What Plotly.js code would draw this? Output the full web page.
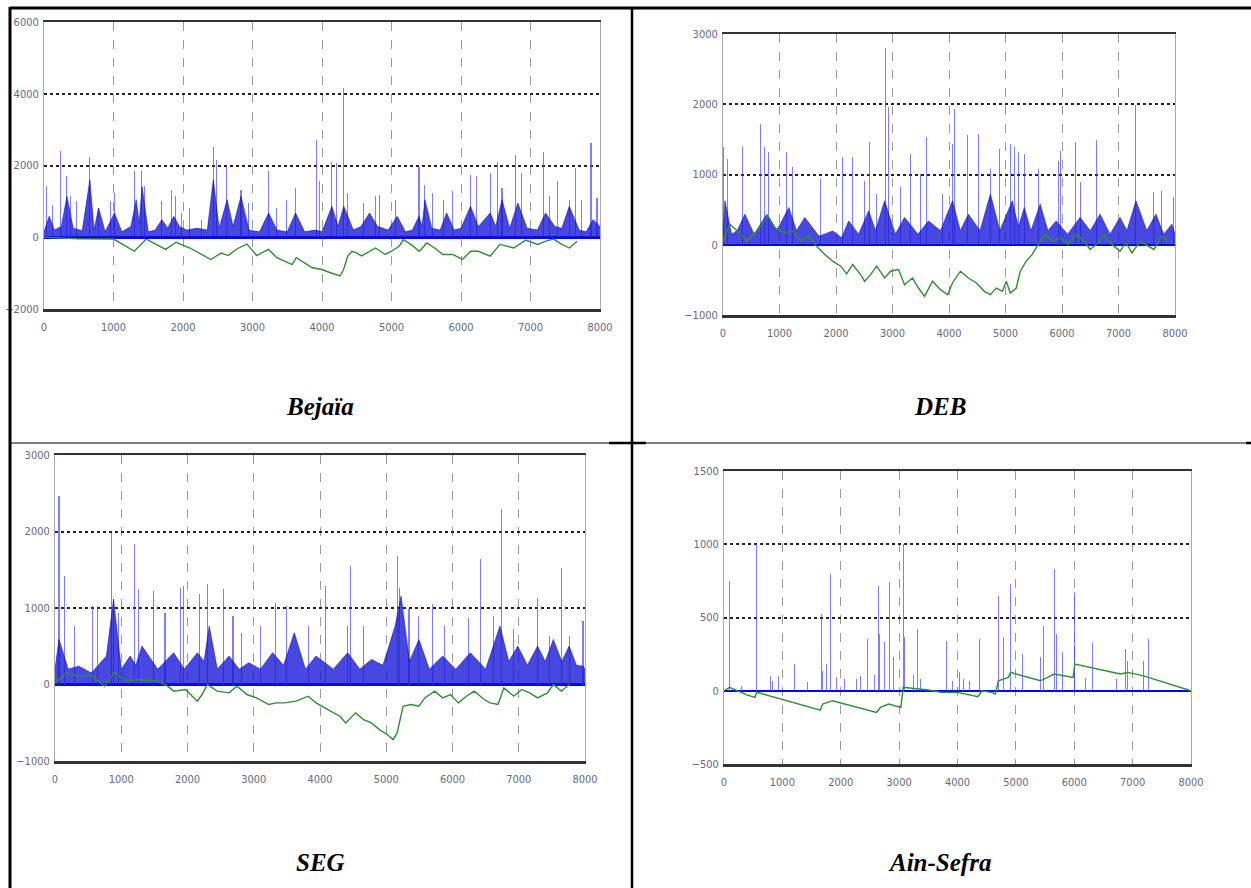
<!DOCTYPE html>
<html><head><meta charset="utf-8">
<script src="https://cdn.plot.ly/plotly-3.0.1.min.js"></script>
<style>html,body{margin:0;padding:0;background:#fff}#chart{width:1251px;height:888px}</style>
</head><body><div id="chart"></div><script>
// ---------- captions / ticks ----------
const captions = ["Bejaïa", "DEB", "SEG", "Ain-Sefra"];
const xTickVals = [0,1000,2000,3000,4000,5000,6000,7000,8000];
const xTickText = ["0","1000","2000","3000","4000","5000","6000","7000","8000"];
const bejaiaYTicks = [-2000,0,2000,4000,6000];
const debYTicks = [-1000,0,1000,2000,3000];
const segYTicks = [-1000,0,1000,2000,3000];
const ainYTicks = [-500,0,500,1000,1500];

// ---------- Bejaïa ----------
const bejaiaSpikeX = [34,120,233,330,375,470,660,785,956,1013,1298,1400,1440,1696,1838,1895,1980,2094,2265,2436,2481,2624,2834,2948,3233,3347,3489,3620,3916,3961,4143,4212,4303,4371,4599,4770,4826,5054,5396,5481,5595,5748,5880,6136,6221,6420,6523,6590,6790,6875,7188,7274,7387,7558,7643,7729,7871,7957];
const bejaiaSpikeY = [1417,900,2417,1700,1140,1000,2250,815,1000,1230,1860,1860,1417,1000,1324,1140,675,815,490,2528,2157,2000,1324,954,1833,815,1046,1370,2713,1555,2111,2065,4148,1231,954,1139,1185,1046,1972,1463,1231,1046,1278,1741,1694,1787,2111,1370,2296,1787,2389,1139,1555,1046,1926,1046,2620,1093];
const bejaiaBaseX = [0,74,150,250,330,420,550,660,720,785,880,1013,1120,1250,1326,1370,1411,1500,1600,1696,1780,1867,1950,2050,2200,2350,2436,2520,2635,2720,2834,2950,3100,3233,3350,3500,3620,3750,3900,4000,4143,4230,4314,4450,4560,4684,4800,4950,5083,5200,5300,5396,5440,5481,5580,5700,5794,5900,6000,6136,6250,6420,6500,6590,6700,6818,6950,7100,7217,7350,7450,7558,7700,7800,7900,8000];
const bejaiaBaseY = [150,583,200,300,1139,250,180,1602,200,815,150,676,150,300,1046,400,1417,150,200,491,250,583,300,200,250,200,1602,250,1046,300,1139,200,150,676,200,150,676,150,200,150,861,300,861,200,300,676,300,200,583,150,200,583,300,1046,250,200,676,200,250,861,300,676,300,1046,250,954,250,200,676,300,250,861,200,150,491,300];
const bejaiaCumX = [0,500,1000,1300,1470,1750,1900,2100,2400,2550,2650,2780,2920,3060,3230,3350,3570,3630,3860,4000,4120,4260,4310,4370,4430,4490,4570,4650,4770,4910,5000,5110,5170,5280,5400,5510,5620,5740,5880,6020,6140,6250,6420,6560,6760,6930,7100,7220,7330,7450,7560,7670];
const bejaiaCumY = [0,-40,-50,-390,-50,-340,-140,-300,-620,-440,-510,-320,-190,-510,-340,-570,-760,-570,-850,-900,-990,-1080,-900,-530,-390,-430,-520,-430,-300,-480,-390,-250,-70,-200,-390,-160,-300,-480,-480,-620,-390,-390,-530,-200,-300,-80,-200,-110,-50,-200,-300,-110];

// ---------- DEB ----------
const debSpikeX = [14,78,339,424,657,742,812,1080,1116,1236,1469,1730,2119,2295,2507,2599,2719,2881,2931,3143,3319,3496,3602,3884,4061,4096,4329,4520,4732,4887,5085,5155,5226,5332,5579,5932,5968,6236,6320,6603,6744,6850,7062,7295,7486,7627,7768,7980];
const debSpikeY = [1389,1222,1389,1150,1723,1389,1317,1246,1317,1103,1365,935,1246,1246,912,1461,721,2797,1962,816,1294,1007,1532,721,1437,1938,1556,1580,1079,1365,1437,1389,1317,1294,1079,1198,1341,1461,888,1485,1866,873,864,1986,816,745,768,673];
const debBaseX = [0,35,150,250,388,550,777,950,1165,1300,1448,1700,1942,2100,2225,2400,2578,2700,2860,3050,3213,3450,3637,3850,4061,4200,4343,4550,4732,4900,5120,5230,5332,5450,5614,5750,5897,6100,6320,6500,6674,6850,7027,7150,7309,7500,7662,7800,7945,8000];
const debBaseY = [150,625,150,200,435,150,435,200,530,200,387,120,196,100,339,150,482,200,625,150,387,150,339,200,625,200,435,200,721,200,625,250,530,200,578,200,339,150,387,200,435,150,387,200,625,200,435,150,291,150];
const debCumX = [0,120,318,424,600,798,918,1095,1236,1377,1518,1624,1801,1942,2083,2189,2295,2436,2507,2613,2719,2860,2966,3107,3213,3354,3460,3566,3708,3849,3976,4061,4202,4343,4484,4626,4732,4838,4944,5014,5085,5191,5261,5367,5473,5579,5685,5826,5968,6109,6250,6391,6497,6638,6744,6885,7027,7133,7239,7380,7521,7627,7768,7874];
const debCumY = [52,291,148,52,196,410,243,172,196,52,124,5,-138,-234,-305,-415,-282,-425,-520,-425,-305,-473,-377,-353,-568,-473,-616,-735,-520,-639,-711,-544,-377,-473,-544,-663,-711,-616,-663,-520,-687,-616,-377,-234,-138,5,148,52,100,5,148,52,-67,29,148,5,-91,29,-115,52,-19,-67,124,52];

// ---------- SEG ----------
const segSpikeX = [60,149,299,567,645,854,884,955,1206,1266,1481,1660,1899,1940,2179,2299,2537,2687,2818,3104,3331,3493,3821,4090,4418,4466,4657,5164,5194,5343,5493,5701,5881,6239,6418,6615,6734,6925,7284,7463,7642,7761,7970];
const segSpikeY = [2465,1418,764,1025,1025,1985,1113,938,1832,1243,1222,938,1265,1287,1178,1309,1243,894,676,764,1069,1025,764,1287,764,1549,764,1680,1265,982,894,1047,764,873,1636,894,2290,720,1134,633,1527,633,829];
const segBaseX = [0,60,200,358,550,776,884,1000,1134,1220,1313,1550,1791,1950,2149,2250,2328,2450,2627,2780,2925,3100,3284,3450,3612,3780,3940,4200,4418,4600,4776,4950,5134,5224,5350,5493,5650,5851,6050,6269,6500,6716,6850,6985,7130,7284,7400,7522,7650,7761,7870,7970,8000];
const segBaseY = [200,589,200,240,150,371,1113,200,371,250,502,200,415,200,415,300,764,200,371,200,284,200,415,250,676,200,371,200,415,200,327,250,764,1156,300,589,200,371,200,415,200,764,300,502,250,502,300,589,300,502,250,240,200];
const segCumX = [0,179,358,537,746,896,1075,1254,1552,1701,1791,1970,2149,2220,2299,2448,2627,2746,2896,3045,3224,3343,3463,3642,3821,3940,4119,4299,4388,4537,4657,4776,4896,5015,5104,5164,5254,5373,5493,5582,5731,5851,5970,6090,6209,6328,6478,6567,6687,6776,6925,7045,7164,7284,7433,7522,7642,7761];
const segCumY = [22,153,109,131,-22,153,44,65,44,-22,-87,-65,-218,-131,0,-87,-109,-22,-131,-175,-262,-240,-240,-218,-153,-240,-327,-415,-502,-371,-458,-502,-589,-654,-720,-633,-284,-262,-284,-175,-87,-175,-131,-240,-153,-87,-196,-240,-262,-44,-153,-65,-109,-175,-109,0,-87,0];

// ---------- Ain-Sefra ----------
const ainSpikeX = [96,137,301,561,800,830,937,1210,1430,1668,1689,1757,1826,1928,2065,2270,2338,2462,2580,2646,2667,2749,2831,2899,3070,3090,3240,3309,3360,3460,3809,3910,4034,4100,4200,4376,4697,4745,4786,4903,5115,5415,5470,5668,5689,5791,5997,6010,6190,6318,6510,6720,6885,6920,7180,7276];
const ainSpikeY = [751,30,34,1001,102,70,102,182,60,523,137,182,796,91,80,80,102,353,110,717,387,330,740,228,1001,364,110,421,80,110,341,70,125,80,70,353,648,387,364,728,250,228,444,830,387,262,671,307,90,323,60,80,284,200,205,353];
const ainCumX = [0,96,400,530,560,1650,1690,1860,2610,2680,2820,3030,3070,3500,3720,4000,4350,4420,4580,4650,4700,4870,4910,5420,5660,5980,6010,6790,6920,7190,8000];
const ainCumY = [0,23,-30,-45,-10,-132,-91,-68,-148,-114,-91,-114,23,5,-11,-11,-41,0,-11,-23,68,91,125,68,114,91,182,114,125,102,0];

// ---------- layout helpers ----------
const W = 1251, H = 888;
const fx = p => p / W, fy = p => 1 - p / H;
const panels = [
  {sx: bejaiaSpikeX, sy: bejaiaSpikeY, bx: bejaiaBaseX, by: bejaiaBaseY, cx: bejaiaCumX, cy: bejaiaCumY, yt: bejaiaYTicks, box: [44, 600, 22, 309]},
  {sx: debSpikeX, sy: debSpikeY, bx: debBaseX, by: debBaseY, cx: debCumX, cy: debCumY, yt: debYTicks, box: [723, 1175, 34, 315]},
  {sx: segSpikeX, sy: segSpikeY, bx: segBaseX, by: segBaseY, cx: segCumX, cy: segCumY, yt: segYTicks, box: [55, 585, 455, 761]},
  {sx: ainSpikeX, sy: ainSpikeY, bx: null, by: null, cx: ainCumX, cy: ainCumY, yt: ainYTicks, box: [724, 1191, 471, 764]}
];
const tickFont = {family: '"Liberation Sans Narrow", "DejaVu Sans Condensed", "Liberation Sans", sans-serif', size: 11, color: '#6a6a7a'};

const traces = [];
const layout = {
  width: W, height: H, margin: {l: 0, r: 0, t: 0, b: 0},
  paper_bgcolor: '#fff', plot_bgcolor: '#fff', showlegend: false,
  barmode: 'overlay', bargap: 0, shapes: [], annotations: []
};

panels.forEach((p, i) => {
  const n = i + 1, xa = 'x' + (n === 1 ? '' : n), ya = 'y' + (n === 1 ? '' : n);
  if (p.bx) traces.push({type: 'scatter', mode: 'lines', x: p.bx, y: p.by, xaxis: xa, yaxis: ya,
    fill: 'tozeroy', fillcolor: 'rgba(20,20,215,0.78)', line: {color: 'rgba(0,0,190,0.9)', width: 0.6}, hoverinfo: 'skip'});
  traces.push({type: 'bar', x: p.sx, y: p.sy, xaxis: xa, yaxis: ya, width: 16,
    marker: {color: 'rgba(70,70,255,0.7)', line: {width: 0}}, hoverinfo: 'skip'});
  traces.push({type: 'scatter', mode: 'lines', x: p.cx, y: p.cy, xaxis: xa, yaxis: ya,
    line: {color: '#2f8f2f', width: 1.4}, hoverinfo: 'skip'});
  const [l, r, t, b] = p.box;
  layout['xaxis' + (n === 1 ? '' : n)] = {
    domain: [fx(l), fx(r)], anchor: ya, range: [0, 8000], tickvals: xTickVals, ticktext: xTickText,
    showgrid: true, gridcolor: '#9a9a9a', griddash: 'dash', gridwidth: 1,
    showline: true, linecolor: '#333', linewidth: 2.5, mirror: true, zeroline: false, ticks: '',
    tickfont: tickFont, ticklabelstandoff: 6
  };
  layout['yaxis' + (n === 1 ? '' : n)] = {
    domain: [fy(b), fy(t)], anchor: xa, range: [p.yt[0], p.yt[p.yt.length - 1]], tickvals: p.yt,
    showgrid: true, gridcolor: '#222', griddash: 'dot', gridwidth: 2,
    showline: true, linecolor: '#aaa', linewidth: 1, mirror: true,
    zeroline: true, zerolinecolor: '#0000ff', zerolinewidth: 2.5, ticks: '',
    tickfont: tickFont, ticklabelstandoff: 2
  };
});

// table borders
const L = (x0, y0, x1, y1, w) => ({type: 'line', xref: 'paper', yref: 'paper', x0: fx(x0), y0: fy(y0), x1: fx(x1), y1: fy(y1), line: {color: '#000', width: w}});
layout.shapes.push(L(10, 8, 1251, 8, 3));
layout.shapes.push(L(10, 7, 10, 888, 3));
layout.shapes.push(L(632, 7, 632, 888, 2.5));
layout.shapes.push(L(10, 443, 1248, 443, 1.2));
layout.shapes.push(L(609, 443, 646, 443, 2.5));
layout.shapes.push(L(1246, 443, 1251, 443, 2.5));

// captions
const capPos = [[320, 406], [940, 406], [320, 862], [939, 862]];
captions.forEach((c, i) => {
  layout.annotations.push({xref: 'paper', yref: 'paper', x: fx(capPos[i][0]), y: fy(capPos[i][1]),
    text: '<b><i>' + c + '</i></b>', showarrow: false, xanchor: 'center', yanchor: 'middle',
    font: {family: '"Liberation Serif", "Times New Roman", serif', size: 25, color: '#000'}});
});

Plotly.newPlot('chart', traces, layout, {staticPlot: true, displayModeBar: false});
</script></body></html>
